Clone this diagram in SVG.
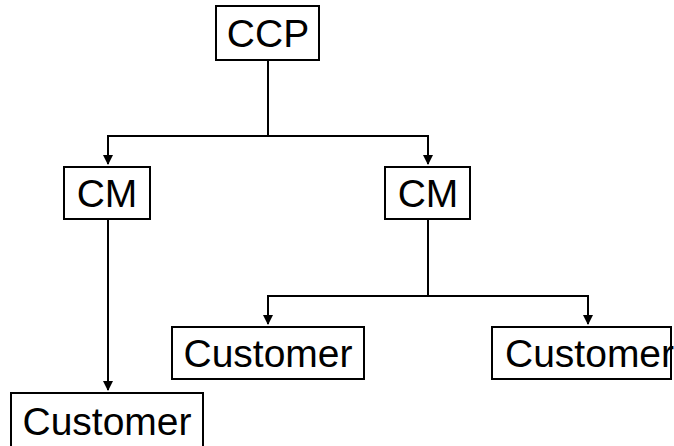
<svg xmlns="http://www.w3.org/2000/svg" width="674" height="446" viewBox="0 0 674 446">
<defs>
<style>
.box{fill:#fff;stroke:#000;stroke-width:2}
.lbl{font-family:"Liberation Sans",Arial,sans-serif;font-size:39px;fill:#000;text-anchor:middle}
.edge{fill:none;stroke:#000;stroke-width:2}
</style>
<marker id="arr" markerUnits="userSpaceOnUse" markerWidth="10" markerHeight="12" refX="9" refY="5" orient="auto" viewBox="0 0 10 10">
<path d="M0,0 L10,5 L0,10 z" fill="#000"/>
</marker>
</defs>
<rect width="674" height="446" fill="#fff"/>
<g id="connectors">
<path class="edge" d="M268,60 V136 H108 V164" marker-end="url(#arr)"/>
<path class="edge" d="M268,136 H428 V164" marker-end="url(#arr)"/>
<path class="edge" d="M108,219 V390" marker-end="url(#arr)"/>
<path class="edge" d="M428,219 V296 H268 V324" marker-end="url(#arr)"/>
<path class="edge" d="M428,296 H588 V324" marker-end="url(#arr)"/>
</g>
<g id="ccp"><rect class="box" x="216" y="6" width="103" height="54"/><text class="lbl" x="268" y="47">CCP</text></g>
<g id="cm-left"><rect class="box" x="64" y="167" width="86" height="52"/><text class="lbl" x="107" y="207">CM</text></g>
<g id="cm-right"><rect class="box" x="385" y="167" width="85" height="52"/><text class="lbl" x="428" y="207">CM</text></g>
<g id="customer-mid"><rect class="box" x="172" y="327" width="192" height="52"/><text class="lbl" x="268" y="367">Customer</text></g>
<g id="customer-right"><rect class="box" x="492" y="327" width="179" height="52"/><text class="lbl" x="505" y="367" style="text-anchor:start">Customer</text></g>
<g id="customer-bottom"><rect class="box" x="11" y="393" width="192" height="60"/><text class="lbl" x="107" y="435">Customer</text></g>
</svg>
